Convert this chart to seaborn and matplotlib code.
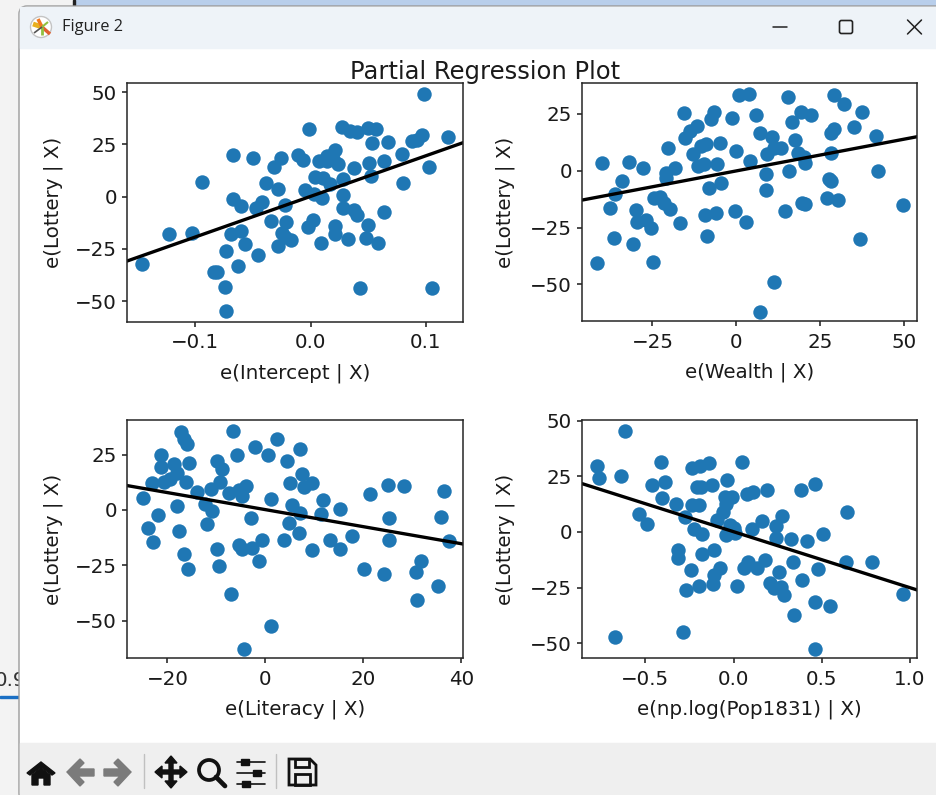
import matplotlib
matplotlib.use("Agg")
import matplotlib.pyplot as plt
import seaborn as sns
from matplotlib.patches import Rectangle, FancyBboxPatch, Polygon, Circle

# residuals
intercept_x = [-0.146,-0.123,-0.103,-0.094,-0.084,-0.081,-0.074,-0.073,-0.073,-0.069,-0.063,-0.060,-0.057,-0.067,-0.067,-0.060,-0.050,-0.046,-0.047,-0.042,-0.039,-0.034,-0.032,-0.026,-0.028,-0.022,-0.021,-0.025,-0.028,-0.022,-0.017,-0.011,-0.007,-0.005,0.003,0.010,-0.001,-0.002,0.002,0.009,0.007,0.014,0.014,0.021,0.019,0.024,0.004,0.011,0.017,0.028,0.028,0.028,0.021,0.021,0.032,0.038,0.038,0.040,0.043,0.027,0.034,0.040,0.050,0.057,0.053,0.051,0.052,0.050,0.048,0.058,0.064,0.064,0.067,0.079,0.080,0.088,0.092,0.097,0.098,0.103,0.105,0.119]
intercept_y = [-32.3,-17.9,-17.4,7.0,-35.9,-36.1,-43.5,-55,-25.9,-17.9,-33.2,-16.6,-22.5,20,-1.1,-4.6,18.7,-28.1,-5.4,-2.4,6.5,-11.5,14.2,18.7,3.7,-4.2,-12,-17.6,-23.5,-19.5,-20.9,20,17.4,3.4,1.3,-0.5,32.6,-14.7,-11,-22.2,16.9,17.1,19.5,22.4,17.9,15.7,9.6,8.8,5.9,8.5,1,-5.4,-14.1,-18.1,-20.4,13.9,-6.5,-8.8,-43.9,33.2,31.5,31,32.9,32.4,25.6,16.3,9.9,-13.7,-19.8,-22.2,-7.5,17.3,26.4,20.4,6.5,26.7,27.2,29.4,49.2,14.4,-43.9,28.4]

wealth_x = [-41.5,-40,-37.7,-36.5,-36,-34.2,-31.9,-30.7,-29.9,-29.7,-27.8,-27,-25.4,-24.8,-24.5,-22.7,-21.5,-19.6,-21,-20.8,-20.4,-18.4,-16.9,-15.5,-15.2,-13.8,-11.6,-12.8,-11.4,-9.5,-10.5,-8.9,-9.4,-5.9,-8.7,-8.1,-4.4,-5.6,-4.7,-7.4,-6.5,-1.3,-0.2,-0.4,3,0.9,3.9,4.2,5.8,7.1,9.1,9,9,10.6,11.2,13.5,11.3,7.1,14.5,15.5,16.6,17.5,15.7,18.5,20.2,20.6,19.2,22.3,19.5,20.5,27.2,30.4,27.6,28.4,28.4,28.2,29.1,29.2,32.1,35.2,37.6,37,41.8,42.4,49.7]
wealth_y = [-40.7,3.5,-16.5,-29.6,-10.1,-4.6,4,-32.2,-17.4,-22.6,1.2,-21.8,-25.1,-40,-11.9,-11.5,-14,-16.9,-1.2,-3.4,10.1,1.3,-22.9,25.3,14.6,17.5,19.9,7.5,2.2,3.1,10.9,11.8,-19.3,-18.4,-28.8,-7.4,-5.4,2.9,12.1,22.6,25.7,23.1,8.5,-17.9,-22.5,33.2,33.8,4.1,24.6,16.8,7.4,-1.6,-8.4,15,9.9,10.1,-49,-62.1,-17.8,32.6,21.3,13.7,0.1,7.6,6.2,3.4,25.7,24.4,-14,-14.6,-11.9,-12.8,-3.7,-4.7,7.9,16.5,18.2,33.4,29.4,19.1,26,-30.1,15.4,0.1,-14.9]

literacy_x = [-25,-23.9,-23,-23.1,-22,-21.4,-21.4,-20.8,-19.5,-18.6,-18,-18,-17.7,-17.3,-16.7,-16.1,-15.7,-16.3,-16.7,-15.9,-13.9,-12.3,-11,-11.9,-11.2,-9.9,-8.8,-9.2,-9.8,-9.5,-7.4,-6.7,-5.9,-7.1,-5.4,-4.7,-3.9,-5.4,-4.8,-2.7,-3,-0.7,-1.3,-4.3,-2.2,0.5,1.1,1.1,2.4,3.7,4.4,5,5.4,4.9,7.1,6.9,7.1,7.4,7.8,9.5,9.6,11.7,11.4,13.1,15.3,15.3,17.6,20.1,21.4,24.2,25,25.2,25.3,28.3,30.7,31.8,30.9,35.3,35.8,36.4,37.4]
literacy_y = [5.3,-8.1,-14.6,12,-2.4,25,19.4,12.8,13.9,20.6,16.9,1.7,-9.5,35.4,32.1,29.8,21.1,12.8,-19.9,-26.8,8.3,2.6,-0.3,-6.2,9.3,22,18.7,12.8,-17.6,-25.2,7.5,35.7,25,-37.8,9,6.3,10.8,-15.8,-17.8,-17.3,-3.6,-13.7,-22.9,-62.7,28.5,25,4.8,-52.4,32.1,-13.7,22.1,12.3,2.3,-5.7,-1.5,-10.2,27.4,16.3,10.2,12.3,-18.1,4.5,-1.7,-13.7,-17.6,0.6,-11.6,-26.8,7.2,-29.1,11.1,-3.5,-13.7,10.8,-28.2,-23.2,-40.7,-34.3,-3.2,8.4,-14]

pop_x = [-0.773,-0.762,-0.675,-0.641,-0.614,-0.537,-0.493,-0.461,-0.412,-0.405,-0.388,-0.329,-0.318,-0.318,-0.285,-0.274,-0.268,-0.242,-0.238,-0.234,-0.225,-0.197,-0.21,-0.187,-0.193,-0.178,-0.178,-0.195,-0.142,-0.121,-0.113,-0.119,-0.113,-0.076,-0.096,-0.059,-0.051,-0.04,-0.043,-0.011,-0.021,-0.043,0.004,0.008,0.021,0.045,0.074,0.112,0.104,0.06,0.083,0.132,0.164,0.187,0.18,0.24,0.274,0.242,0.257,0.208,0.229,0.27,0.285,0.325,0.335,0.34,0.38,0.386,0.416,0.461,0.48,0.461,0.505,0.548,0.461,0.637,0.646,0.785,0.96]
pop_y = [29.8,24.1,-47.2,25.3,45.4,8.1,3.7,21,31.3,15.4,22.6,12.7,-8.1,-11.5,-45.1,6.6,-26.2,-17.2,28.9,12,1.3,12,20.1,20.2,29.7,-0.9,-9.9,-24.3,30.9,21,-8.1,-23.4,-19.2,-16.3,5.2,9.1,15.9,23.2,12.4,15.9,3.1,-1.3,1.9,-0.6,-24.3,31.3,16.9,17.8,1.3,-16.3,-13.6,-16.3,4.8,18.7,-12.6,2.7,7.2,-2.5,-17.8,-23.1,-25.2,-24.9,-28.3,-3,-13.3,-37.2,18.7,-21.6,-3.9,21.4,-16.8,-31.6,-1,-33.3,-52.6,-13.5,8.8,-13.6,-28]

# fitted lines, ends at the axis limits
intercept_xlim = [-0.159, 0.1324]
intercept_ylim = [-59.9, 54.3]
intercept_fit = [-30.8, 25.9]
wealth_xlim = [-45.9, 54]
wealth_ylim = [-66.3, 38.5]
wealth_fit = [-12.9, 15]
literacy_xlim = [-28.2, 40.4]
literacy_ylim = [-67, 40.5]
literacy_fit = [11, -15.4]
pop_xlim = [-0.858, 1.042]
pop_ylim = [-56.8, 50.2]
pop_fit = [21.7, -26.1]

intercept_xticks = [-0.1, 0.0, 0.1]
intercept_yticks = [-50, -25, 0, 25, 50]
wealth_xticks = [-25, 0, 25, 50]
wealth_yticks = [-50, -25, 0, 25]
literacy_xticks = [-20, 0, 20, 40]
literacy_yticks = [-50, -25, 0, 25]
pop_xticks = [-0.5, 0.0, 0.5, 1.0]
pop_yticks = [-50, -25, 0, 25, 50]

W, H = 937, 795
sns.set_style("ticks")
plt.rcParams["font.family"] = ["DejaVu Sans"]
plt.rcParams["axes.edgecolor"] = "#262626"
plt.rcParams["axes.linewidth"] = 1.1
plt.rcParams["xtick.color"] = "#1a1a1a"
plt.rcParams["ytick.color"] = "#1a1a1a"
plt.rcParams["axes.labelcolor"] = "#1a1a1a"

fig = plt.figure(figsize=(W / 100, H / 100), dpi=100)

# window around the figure, in pixels
bg = fig.add_axes([0, 0, 1, 1], zorder=0)
bg.set_xlim(0, W)
bg.set_ylim(H, 0)
bg.axis("off")
bg.add_patch(Rectangle((0, 0), W, H, color="#f3f3f3", zorder=0))
bg.add_patch(Rectangle((75, 0), W - 75, 5, color="#b8ceeb", zorder=0.5))
bg.add_patch(Rectangle((73, 0), 2, 6, color="#222222", zorder=0.6))
bg.text(-5, 681, "0.9", fontsize=14.3, color="#333333", va="center", zorder=1)
bg.add_patch(Rectangle((0, 696), 19, 2, color="#1a6fc4", zorder=1))
bg.add_patch(FancyBboxPatch((19, 6), W + 30, H, boxstyle="round,pad=0,rounding_size=8",
                            fc="white", ec="#9a9a9a", lw=1.0, zorder=2))
bg.add_patch(Rectangle((20, 7), W, 41, color="#eef3f8", zorder=3))
bg.add_patch(Rectangle((20, 743), W, 52, color="#efefef", zorder=3))
bg.text(62, 27, "Figure 2", fontsize=11.8, family="Open Sans", color="#222222", va="center", zorder=4)

# title bar icon and buttons
bg.add_patch(Circle((41, 27), 10.5, fc="white", ec="#c4c4c4", lw=1, zorder=4))
for x2, y2, c, lw in [(33, 24, "#e8b020", 3.5), (38, 19, "#f07820", 2.5), (50, 34, "#e06030", 2.5),
                      (42, 35, "#90c040", 2), (48, 22, "#90c040", 1.5), (34, 33, "#555555", 1.2)]:
    bg.plot([42, x2], [27, y2], color=c, lw=lw, zorder=5, solid_capstyle="butt")
bg.plot([773, 787], [27, 27], color="#222222", lw=1.1, zorder=5)
bg.add_patch(FancyBboxPatch((839.5, 20.5), 13, 13, boxstyle="round,pad=0,rounding_size=2",
                            fc="none", ec="#222222", lw=1.2, zorder=5))
bg.plot([907.5, 921.5], [20, 34], color="#222222", lw=1.1, zorder=5)
bg.plot([907.5, 921.5], [34, 20], color="#222222", lw=1.1, zorder=5)

# toolbar icons
ink = "#111111"
bg.add_patch(Polygon([[27, 773], [41, 762], [55, 773], [52, 775], [41, 767], [30, 775]], color=ink, zorder=5))
bg.add_patch(Polygon([[32, 775], [41, 768], [50, 775], [50, 785], [44, 785], [44, 778], [38, 778], [38, 785], [32, 785]],
                     color=ink, zorder=5))
grey = "#7b7b7b"
bg.add_patch(Polygon([[67, 772], [80, 759], [84, 763], [78, 769], [94, 769], [94, 776], [78, 776], [84, 782], [80, 786]],
                     color=grey, zorder=5))
bg.add_patch(Polygon([[131, 772], [118, 759], [114, 763], [120, 769], [104, 769], [104, 776], [120, 776], [114, 782], [118, 786]],
                     color=grey, zorder=5))
bg.plot([144, 144], [754, 788], color="#c0c0c0", lw=1, zorder=5)
bg.plot([276, 276], [754, 788], color="#c0c0c0", lw=1, zorder=5)
bg.add_patch(Polygon([[171, 756], [177, 763], [173, 763], [173, 770], [180, 770], [180, 766], [187, 772],
                      [180, 778], [180, 774], [173, 774], [173, 781], [177, 781], [171, 788], [165, 781],
                      [169, 781], [169, 774], [162, 774], [162, 778], [155, 772], [162, 766], [162, 770],
                      [169, 770], [169, 763], [165, 763]], color=ink, zorder=5))
bg.add_patch(Circle((209, 770), 10, fc="none", ec=ink, lw=2.7, zorder=5))
bg.plot([216, 225], [777, 786], color=ink, lw=3.4, zorder=5, solid_capstyle="round")
for yy, xx in [(762, 245), (773, 257), (784, 246)]:
    bg.plot([237, 265], [yy, yy], color=ink, lw=1.2, zorder=5)
    bg.add_patch(Rectangle((xx - 4, yy - 3), 8, 6, color=ink, zorder=6))
bg.add_patch(Polygon([[289, 759], [310, 759], [316, 765], [316, 785], [289, 785]], fc="none", ec=ink, lw=2, zorder=5))
bg.add_patch(Rectangle((295, 759), 14, 8, fc="none", ec=ink, lw=2, zorder=5))
bg.add_patch(Rectangle((295, 774), 15, 11, fc="none", ec=ink, lw=2, zorder=5))

bg.text(485, 72.5, "Partial Regression Plot", fontsize=17.5, ha="center", va="center", color="#1a1a1a", zorder=6)


def panel(left, right, top, bottom, x, y, xlim, ylim, fit, xticks, yticks, xlabel, ypad):
    ax = fig.add_axes([left / W, 1 - bottom / H, (right - left) / W, (bottom - top) / H], zorder=2)
    sns.scatterplot(x=x, y=y, ax=ax, color="#1f77b4", s=108, linewidth=0, clip_on=True)
    sns.lineplot(x=xlim, y=fit, ax=ax, color="black", lw=2.4, errorbar=None)
    ax.set_xlim(xlim)
    ax.set_ylim(ylim)
    ax.set_xticks(xticks)
    ax.set_yticks(yticks)
    ax.tick_params(axis="x", labelsize=14.3, length=3.5, width=1.1, pad=4.8)
    ax.tick_params(axis="y", labelsize=14.3, length=3.5, width=1.1, pad=4)
    ax.set_xlabel(xlabel, fontsize=14.3, labelpad=8)
    ax.set_ylabel("e(Lottery | X)", fontsize=14.3, labelpad=ypad)
    return ax


panel(127.3, 463.3, 83.3, 321.7, intercept_x, intercept_y, intercept_xlim, intercept_ylim, intercept_fit,
      intercept_xticks, intercept_yticks, "e(Intercept | X)", 8.6)
panel(582.3, 917.3, 83.3, 321.3, wealth_x, wealth_y, wealth_xlim, wealth_ylim, wealth_fit,
      wealth_xticks, wealth_yticks, "e(Wealth | X)", 10.8)
panel(127.3, 463.3, 420.3, 658.3, literacy_x, literacy_y, literacy_xlim, literacy_ylim, literacy_fit,
      literacy_xticks, literacy_yticks, "e(Literacy | X)", 8.6)
panel(582.3, 917.3, 420.3, 658.3, pop_x, pop_y, pop_xlim, pop_ylim, pop_fit,
      pop_xticks, pop_yticks, "e(np.log(Pop1831) | X)", 10.8)

fig.savefig("out.png", dpi=100)
